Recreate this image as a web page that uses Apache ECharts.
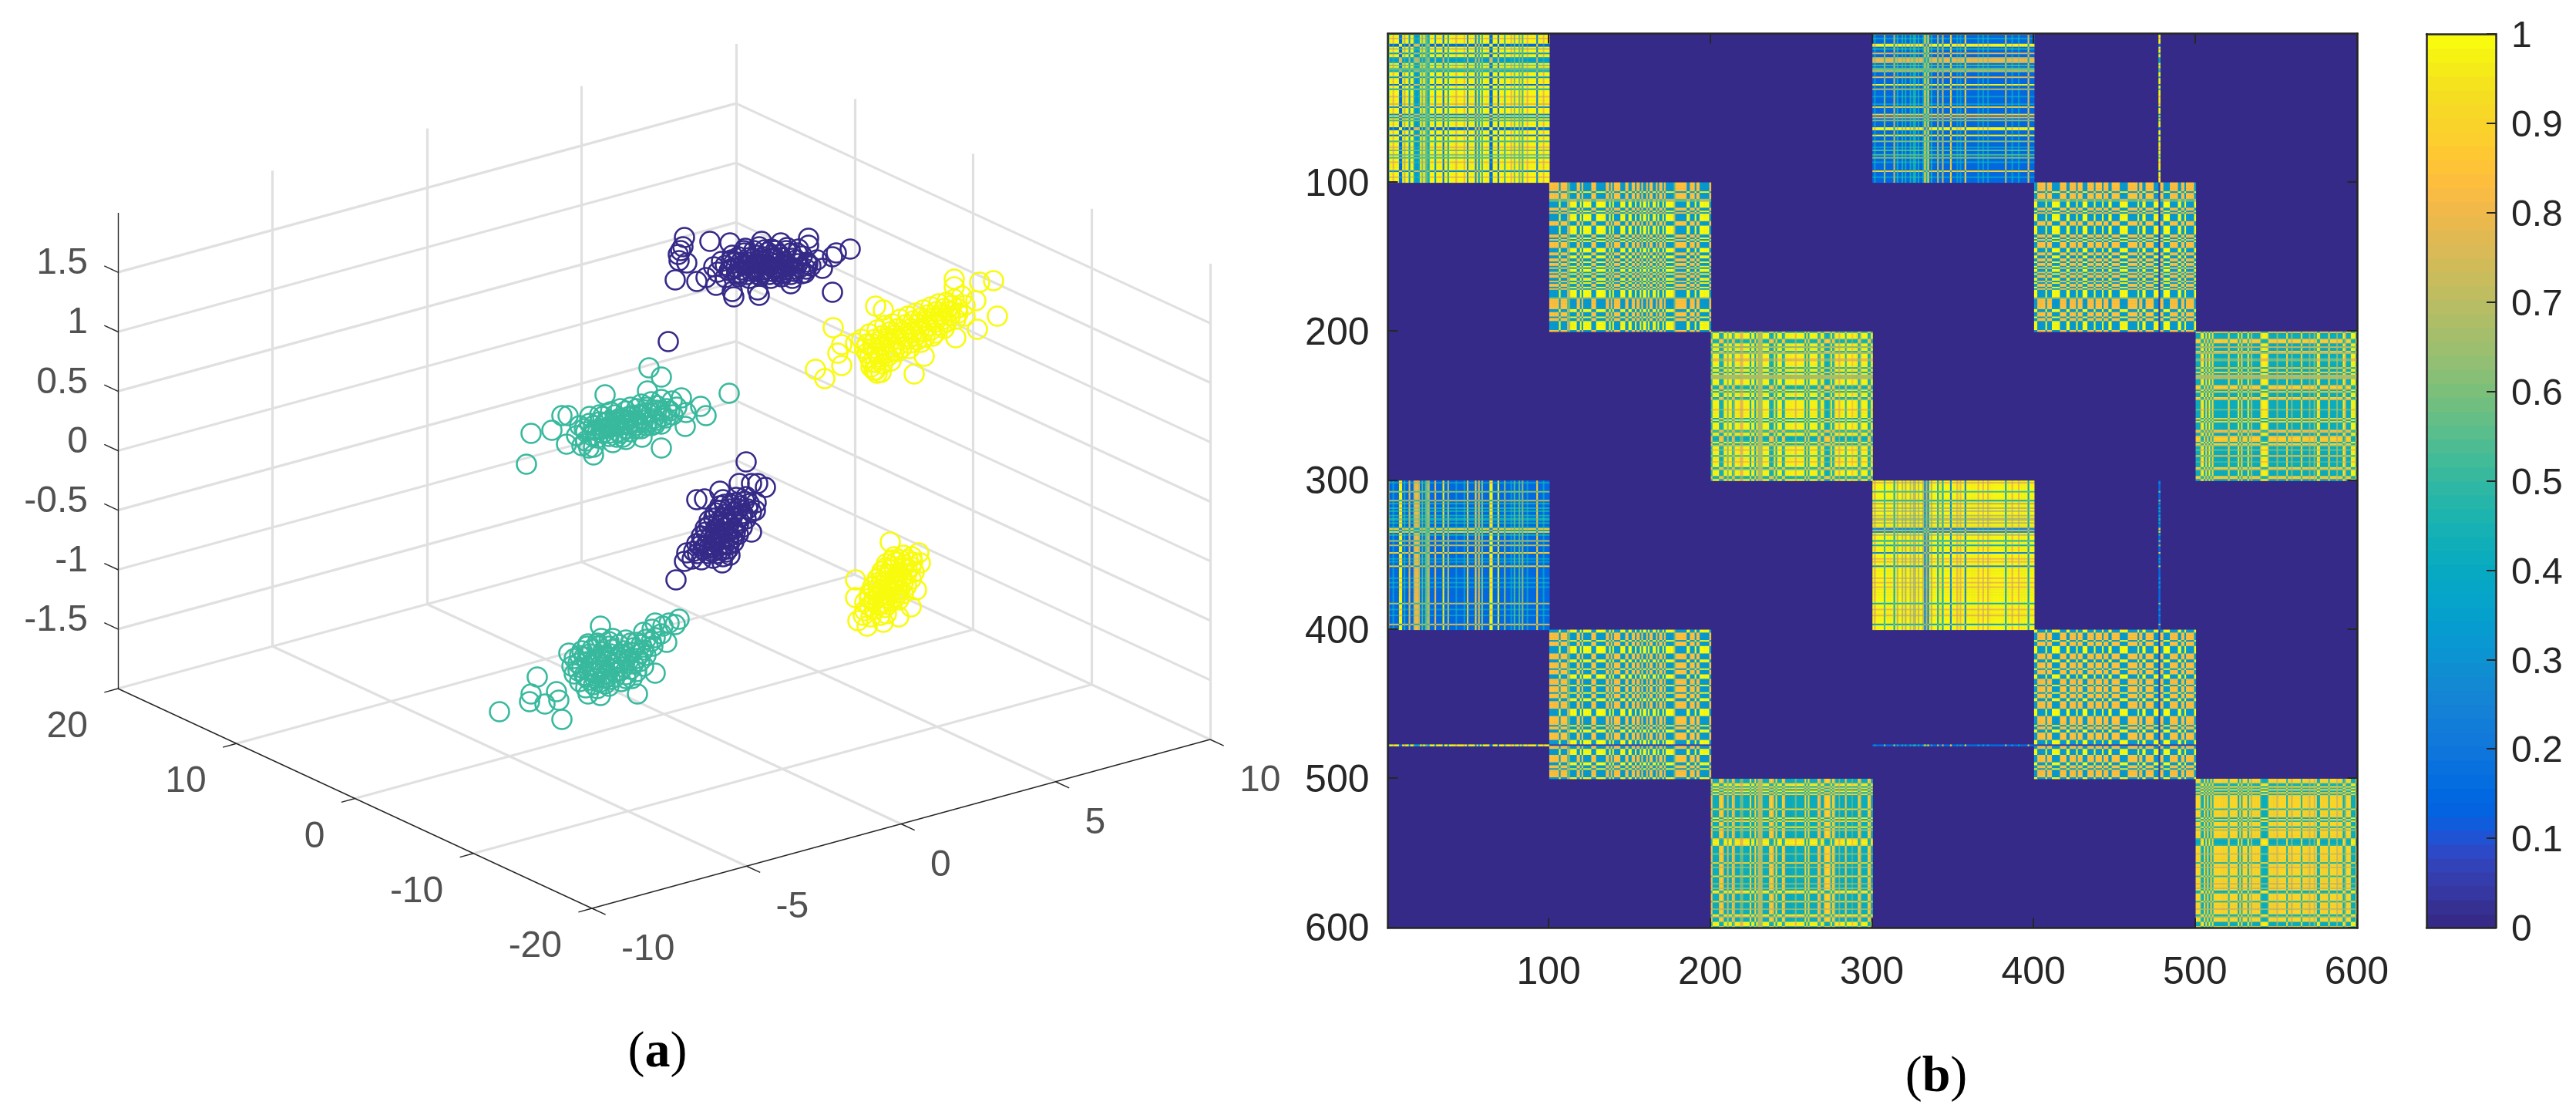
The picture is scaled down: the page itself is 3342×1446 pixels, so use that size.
<!DOCTYPE html>
<html><head><meta charset="utf-8"><style>html,body{margin:0;padding:0;background:#fff}#c{width:3342px;height:1446px}</style>
<script src="https://cdn.jsdelivr.net/npm/echarts@6/dist/echarts.min.js"></script></head>
<body><div id="c"></div><script>
// ---------- panel (a): projected scatter (projection-plane units) ----------
const darkUpper=[[888,308],[886,320],[883,325],[880,330],[881,338],[891,341],[876,363],[904,365],[921,313],[947,315],[988,313],[1013,315],[1049,309],[1049,318],[1103,323],[1085,328],[1080,333],[1067,348],[1080,379],[952,385],[950,378],[985,383],[983,376],[929,370],[916,360],[1026,368],
[950,331],[966,328],[981,331],[996,327],[1011,330],[1026,328],[1041,332],[936,339],[949,337],[961,340],[976,336],[990,339],[1004,336],[1018,339],[1033,337],[1047,340],[1060,337],[926,346],[941,344],[955,347],[968,344],[983,347],[997,344],[1010,347],[1024,345],[1038,347],[1052,345],[931,353],[946,351],[960,354],[975,352],[988,354],[1002,352],[1016,355],[1030,352],[1044,354],[941,360],[958,359],[972,361],[986,358],[1000,361],[1014,359],[1028,361],[967,322],[985,320],[1001,323],[1021,321],[1036,323],[970,340],[985,342],[1000,340],[1015,343],[980,350],[995,349],[1010,352],[990,333],[1005,334],[867,443],
[958,333],[972,334],[986,335],[1000,335],[1014,334],[1028,335],[952,341],[965,343],[979,342],[993,343],[1007,342],[1021,342],[1035,342],[1048,343],[948,349],[962,350],[976,348],[990,350],[1004,349],[1018,350],[1032,349],[1046,349],[956,356],[970,356],[984,356],[998,356],[1012,356],[1026,356],[1040,355],[965,325],[978,325],[992,324],[1006,325],[1020,325],[1034,328]];
const yellowUpper=[[1238,362],[1238,372],[1271,366],[1289,364],[1294,410],[1268,427],[1266,390],[1136,397],[1146,402],[1081,425],[1092,447],[1087,458],[1092,474],[1058,479],[1070,491],[1186,485],[1143,483],[1136,480],[1199,462],[1240,438],[1110,445],
[1118,440],[1128,433],[1138,428],[1148,422],[1158,420],[1168,414],[1178,410],[1188,406],[1198,402],[1208,398],[1218,394],[1228,392],[1238,388],[1248,384],[1122,452],[1132,446],[1142,442],[1152,438],[1162,434],[1172,430],[1182,426],[1192,420],[1202,416],[1212,412],[1222,408],[1232,404],[1242,400],[1252,396],[1128,464],[1138,458],[1148,454],[1158,450],[1168,446],[1178,440],[1188,436],[1198,430],[1208,428],[1218,422],[1228,418],[1240,414],[1252,410],[1130,476],[1136,470],[1142,466],[1152,462],[1165,456],[1180,452],[1195,444],[1210,436],[1138,484],[1134,480],
[1125,458],[1133,452],[1143,449],[1153,445],[1163,440],[1173,437],[1183,432],[1193,427],[1203,423],[1213,418],[1223,414],[1233,410],[1243,406],[1125,446],[1135,440],[1145,435],[1155,430],[1165,426],[1175,421],[1185,416],[1195,412],[1205,408],[1215,404],[1225,400],[1235,396],[1131,470],[1140,463],[1150,458],[1160,455],[1170,451],[1180,445],[1190,441],[1200,437],[1213,432],[1225,426],[1145,472],[1156,468]];
const tealUpper=[[683,602],[689,562],[716,558],[729,539],[737,539],[785,512],[842,477],[858,489],[840,507],[946,510],[916,539],[909,527],[884,516],[858,581],[770,590],[764,581],[735,576],[808,567],[833,567],[889,553],
[765,540],[778,538],[792,534],[805,530],[818,528],[832,524],[845,521],[858,518],[872,520],[752,552],[765,549],[778,547],[790,546],[803,543],[816,540],[828,538],[840,535],[852,532],[865,530],[878,528],[890,535],[748,565],[760,560],[772,558],[785,556],[798,553],[810,550],[822,548],[835,545],[848,543],[860,540],[873,538],[760,572],[775,568],[790,566],[805,562],[818,560],[832,556],[845,552],[858,550],[770,580],[755,578],[795,574],[812,570],[800,548],[815,545],[825,552],[790,555],
[785,548],[797,546],[809,543],[821,540],[833,538],[845,535],[857,533],[869,533],[780,556],[792,554],[804,552],[816,550],[828,548],[840,548],[852,545],[864,542],[790,562],[802,560],[814,556],[826,556],[838,552],[850,550],[770,552],[758,556],[782,540],[798,538],[812,533],[826,530],[840,528],[852,526],[768,565],[782,562],[800,567]];
const darkLower=[[968,599],[959,627],[975,627],[993,632],[983,627],[904,648],[914,647],[934,637],[877,752],[888,728],[937,730],[980,662],[975,690],[947,720],[891,717],
[898,725],[910,726],[925,724],[938,722],[900,715],[912,713],[924,716],[936,714],[945,712],[904,705],[916,707],[928,704],[940,706],[952,703],[910,695],[922,697],[934,694],[946,696],[958,693],[915,685],[928,687],[940,684],[952,686],[963,684],[920,675],[932,677],[944,674],[956,676],[968,673],[928,665],[940,667],[952,664],[964,666],[975,664],[934,656],[948,654],[960,656],[972,653],[981,652],[938,648],[955,645],[968,644],[930,700],[945,690],[935,680],[950,670],[925,710],
[905,718],[918,718],[930,718],[942,716],[908,708],[920,710],[934,708],[946,706],[912,700],[926,700],[938,699],[950,698],[916,690],[928,692],[942,690],[954,690],[920,682],[934,682],[946,680],[958,680],[926,672],[938,672],[950,671],[962,670],[932,662],[946,660],[958,660],[970,660],[940,654],[954,652],[966,650]];
const yellowLower=[[1155,703],[1192,717],[1194,730],[1110,752],[1110,775],[1113,805],[1125,812],[1146,807],[1166,800],[1182,787],[1189,765],
[1122,792],[1135,790],[1148,788],[1122,781],[1133,780],[1145,782],[1156,779],[1166,778],[1128,771],[1139,769],[1150,772],[1161,769],[1172,770],[1132,761],[1142,759],[1153,762],[1164,759],[1176,760],[1138,751],[1148,749],[1159,752],[1170,749],[1182,751],[1144,741],[1155,739],[1166,742],[1177,739],[1186,742],[1150,731],[1162,729],[1173,732],[1184,729],[1160,722],[1172,720],[1183,722],[1130,800],[1142,798],[1150,796],[1120,798],[1150,760],[1160,750],[1145,770],[1165,765],[1140,785],
[1128,786],[1140,784],[1152,784],[1128,776],[1139,775],[1150,776],[1162,774],[1133,766],[1145,765],[1156,766],[1168,764],[1138,756],[1149,755],[1160,756],[1172,755],[1143,746],[1154,745],[1165,746],[1176,745],[1150,736],[1160,735],[1172,736],[1182,735],[1158,726],[1168,726],[1178,726]];
const tealLower=[[648,923],[729,933],[697,878],[687,910],[689,900],[707,913],[722,897],[725,908],[779,812],[881,803],[876,810],[850,808],[850,873],[827,900],[779,902],[763,900],[738,847],[763,835],[865,833],
[775,893],[790,890],[760,892],[752,884],[765,882],[778,885],[792,881],[806,884],[820,880],[745,874],[758,876],[771,873],[785,875],[798,872],[812,875],[826,871],[742,864],[755,866],[768,862],[782,865],[795,862],[809,865],[822,861],[835,864],[745,854],[758,852],[772,855],[785,852],[799,855],[812,851],[826,854],[838,850],[755,844],[768,842],[782,845],[795,842],[809,844],[822,840],[835,843],[847,838],[775,834],[790,832],[812,830],[826,833],[838,829],[850,827],[858,822],[835,820],[846,816],[860,812],[868,808],
[760,878],[772,880],[785,880],[798,878],[812,880],[750,870],[764,870],[778,870],[792,868],[805,870],[818,868],[750,860],[762,858],[776,860],[790,858],[803,858],[816,856],[830,858],[752,850],[765,848],[779,850],[792,848],[805,848],[819,846],[832,847],[762,838],[776,838],[790,838],[803,836],[818,834],[832,836],[845,832],[795,828],[780,828],[770,888],[785,887]];
const xTicks3d=[-10,-5,0,5,10];
const yTicks3d=[-20,-10,0,10,20];
const zTicks3d=[-1.5,-1,-0.5,0,0.5,1,1.5];
const zTickLabels=['-1.5','-1','-0.5','0','0.5','1','1.5'];
const scatterColors=['#352a87','#38b99e','#f9fb0e'];

// ---------- panel (b): stripe strength of each point per group (0..9) ----------
const stripesG1='7002000990'+'3007006776'+'0404560007'+'0000900600'+'0020000208'+'0000807050'+'0009900090'+'0050002040'+'0405002000'+'0080002000';
const stripesG2='9999990999'+'9440000990'+'9000009990'+'0000099090'+'9999000990'+'0990990900'+'9099009099'+'0900000499'+'9999900999'+'0990000009';
const stripesG3='8000089800'+'6008500033'+'0000900905'+'5500008980'+'9000970000'+'0030000090'+'9000008700'+'8998095003'+'0008000200'+'0960000980';
const stripesG4='0200000500'+'0006030030'+'3003033030'+'0383803000'+'6006000080'+'0020200800'+'0000020020'+'0200000000'+'0060002000'+'2000007000';
const stripesG5='0099999099'+'9000009999'+'0099990999'+'0009999099'+'9909990099'+'9990000099'+'9999099009'+'9999000099'+'0000999990'+'0990999990';
const stripesG6='0008908090'+'8000000000'+'8000009080'+'0090400000'+'8999800000'+'3000008003'+'0000080000'+'3003098000'+'0080000300'+'0960009990';
const stripeGroups=[stripesG1,stripesG2,stripesG3,stripesG4,stripesG5,stripesG6];
const invertedGroup=[false,false,false,true,false,true];
// levels for [both low, mixed, both high] in each linked pair of groups
const pairLevels=[[0.99,0.15,0.99],[1.0,0.33,0.85],[0.98,0.42,0.91]];
const outlierIndex=477, outlierDark=0.05;
const heatTicks=[100,200,300,400,500,600];
const colorbarTicks=[0,0.1,0.2,0.3,0.4,0.5,0.6,0.7,0.8,0.9,1];
const parula=[[.2081,.1663,.5292],[.2116,.1898,.5777],[.2123,.2138,.627],[.2081,.2386,.6771],[.1959,.2645,.7279],[.1707,.2919,.7792],[.1253,.3242,.8303],[.0591,.3598,.8683],[.0117,.3875,.882],[.006,.4086,.8828],[.0165,.4266,.8786],[.0329,.443,.872],[.0498,.4586,.8641],[.0629,.4737,.8554],[.0723,.4887,.8467],[.0779,.504,.8384],[.0793,.52,.8312],[.0749,.5375,.8263],[.0641,.557,.824],[.0488,.5772,.8228],[.0343,.5966,.8199],[.0265,.6137,.8135],[.0239,.6287,.8038],[.0231,.6418,.7913],[.0228,.6535,.7768],[.0267,.6642,.7607],[.0384,.6743,.7436],[.059,.6838,.7254],[.0843,.6928,.7062],[.1133,.7015,.6859],[.1453,.7098,.6646],[.1801,.7177,.6424],[.2178,.725,.6193],[.2586,.7317,.5954],[.3022,.7376,.5712],[.3482,.7424,.5473],[.3953,.7459,.5244],[.442,.7481,.5033],[.4871,.7491,.484],[.53,.7491,.4661],[.5709,.7485,.4494],[.6099,.7473,.4337],[.6473,.7456,.4188],[.6834,.7435,.4044],[.7184,.7411,.3905],[.7525,.7384,.3768],[.7858,.7356,.3633],[.8185,.7327,.3498],[.8507,.7299,.336],[.8824,.7274,.3217],[.9139,.7258,.3063],[.945,.7261,.2886],[.9739,.7314,.2666],[.9938,.7455,.2403],[.999,.7653,.2164],[.9955,.7861,.1967],[.988,.8066,.1794],[.9789,.8271,.1633],[.9697,.8481,.1475],[.9626,.8705,.1309],[.9589,.8949,.1132],[.9598,.9218,.0948],[.9661,.9514,.0755],[.9763,.9831,.0538]];

// ---------- build ----------
const parulaCss=parula.map(c=>'rgb('+c.map(v=>Math.round(v*255)).join(',')+')');
const ink='#262626', gridGrey='#e0e0e0', font='Liberation Sans';

// 3-D box -> projection plane
function project(x,y,z){return [768+40.1*(x+10)-15.375*(y+20), 1178-10.95*(x+10)-7.125*(y+20)-154.25*(z+2)];}
const greySegs=[], inkSegs=[];
const seg=(list,a,b)=>list.push({coords:[project(...a),project(...b)]});
xTicks3d.forEach(x=>{ if(x>-10) seg(greySegs,[x,-20,-2],[x,20,-2]); if(x>-10) seg(greySegs,[x,20,-2],[x,20,2]); });
yTicks3d.forEach(y=>{ if(y>-20) seg(greySegs,[-10,y,-2],[10,y,-2]); if(y<20) seg(greySegs,[10,y,-2],[10,y,2]); });
zTicks3d.forEach(z=>{ seg(greySegs,[-10,20,z],[10,20,z]); seg(greySegs,[10,20,z],[10,-20,z]); });
seg(inkSegs,[-10,20,-2],[-10,20,2]); seg(inkSegs,[-10,20,-2],[-10,-20,-2]); seg(inkSegs,[-10,-20,-2],[10,-20,-2]);
zTicks3d.forEach(z=>seg(inkSegs,[-10,20,z],[-10,21.15,z]));
yTicks3d.forEach(y=>seg(inkSegs,[-10,y,-2],[-10.44,y,-2]));
xTicks3d.forEach(x=>seg(inkSegs,[x,-20,-2],[x,-21.15,-2]));

const tickLabelSeries=(data,align)=>({type:'scatter',xAxisIndex:0,yAxisIndex:0,symbolSize:0,silent:true,data,z:6,
  label:{show:true,position:'inside',align,verticalAlign:'middle',fontFamily:font,fontSize:48,color:ink,formatter:p=>p.data[2]}});
const rightLabels=[], leftLabels=[];
zTicks3d.forEach((z,i)=>{const p=project(-10,20,z);rightLabels.push([p[0]-39,p[1]-11,zTickLabels[i]]);});
yTicks3d.forEach(y=>{const p=project(-10,y,-2);rightLabels.push([p[0]-39,p[1]+50,String(y)]);});
xTicks3d.forEach(x=>{const p=project(x,-20,-2);leftLabels.push([p[0]+38,p[1]+54,String(x)]);});

const ringSeries=(data,color)=>({type:'scatter',xAxisIndex:0,yAxisIndex:0,data,symbol:'circle',symbolSize:25,silent:true,z:4,large:false,
  itemStyle:{color:'rgba(0,0,0,0)',borderColor:color,borderWidth:2.6,opacity:1}});

// similarity matrix: only non-zero cells are drawn, the grid background is the zero colour
const stripe=i=>{const g=Math.floor(i/100),s=+stripeGroups[g][i%100]/9;return invertedGroup[g]?1-s:s;};
const mix=(p,a,b)=>{const L=pairLevels[p];return (1-a)*(1-b)*L[0]+(a*(1-b)+b*(1-a))*L[1]+a*b*L[2];};
const cell=(i,j)=>{
  const pi=Math.floor(i/100)%3,pj=Math.floor(j/100)%3;
  if(i===outlierIndex&&j===outlierIndex) return 1;
  if(i===outlierIndex||j===outlierIndex){
    const o=i===outlierIndex?j:i,po=Math.floor(o/100)%3;
    if(po===1) return outlierDark;
    if(po===0) return mix(0,stripe(o),0);
    return 0;
  }
  return pi===pj?mix(pi,stripe(i),stripe(j)):0;
};
const heat=[];
for(let i=0;i<600;i++)for(let j=0;j<600;j++){const v=cell(i,j);if(v>0)heat.push([j,i,v]);}
const cats=Array.from({length:600},(_,i)=>String(i+1));
const tickIv=i=>heatTicks.includes(i+1);
const heatAxis=(extra)=>Object.assign({type:'category',data:cats,gridIndex:1,z:10,boundaryGap:true,
  axisLine:{show:true,onZero:false,lineStyle:{color:ink,width:2.5}},
  axisTick:{show:true,inside:true,length:13,alignWithLabel:true,interval:tickIv,lineStyle:{color:ink,width:2}},splitLine:{show:false}},extra);
const lab={show:true,interval:tickIv,fontFamily:font,fontSize:50,color:ink};
const shiftedRich=(size)=>({t:{padding:[8,0,0,0],fontFamily:font,fontSize:size,color:ink}});
const barBands=parulaCss.map((c,i)=>[i/64,(i+1)/64,i]);
const capRich={p:{fontFamily:'Liberation Serif',fontWeight:'normal',fontSize:66,color:'#000'},b:{fontFamily:'Liberation Serif',fontWeight:'bold',fontSize:66,color:'#000'}};

const option={animation:false,backgroundColor:'#fff',
 title:[
  {text:'{p|(}{b|a}{p|)}',left:848,top:1328,textAlign:'center',textStyle:{fontWeight:'normal',rich:capRich}},
  {text:'{p|(}{b|b}{p|)}',left:2507,top:1360,textAlign:'center',textStyle:{fontWeight:'normal',rich:capRich}}],
 grid:[
  {left:0,top:0,width:1700,height:1446,show:false},
  {left:1800.5,top:43.5,width:1258,height:1160,show:true,backgroundColor:parulaCss[0],borderWidth:0,z:0},
  {left:3148,top:44,width:90,height:1159,show:false}],
 xAxis:[
  {type:'value',gridIndex:0,min:0,max:1700,show:false},
  heatAxis({position:'bottom',axisLabel:Object.assign({},lab,{margin:34})}),
  heatAxis({position:'top',axisLabel:{show:false}}),
  {type:'value',gridIndex:2,min:0,max:1,position:'bottom',z:10,axisLine:{show:true,onZero:false,lineStyle:{color:ink,width:2.5}},axisTick:{show:false},axisLabel:{show:false},splitLine:{show:false}},
  {type:'value',gridIndex:2,min:0,max:1,position:'top',z:10,axisLine:{show:true,onZero:false,lineStyle:{color:ink,width:2.5}},axisTick:{show:false},axisLabel:{show:false},splitLine:{show:false}}],
 yAxis:[
  {type:'value',gridIndex:0,min:0,max:1446,inverse:true,show:false},
  heatAxis({position:'left',inverse:true,axisLabel:Object.assign({},lab,{margin:24,formatter:'{t|{value}}',rich:shiftedRich(50)})}),
  heatAxis({position:'right',inverse:true,axisLabel:{show:false}}),
  {type:'value',gridIndex:2,min:0,max:1,interval:0.1,position:'right',z:10,axisLine:{show:true,onZero:false,lineStyle:{color:ink,width:2.5}},
   axisTick:{show:true,inside:true,length:12,lineStyle:{color:ink,width:2}},splitLine:{show:false},
   axisLabel:{fontFamily:font,fontSize:48,color:ink,margin:20,rich:shiftedRich(48),formatter:v=>colorbarTicks.includes(+v.toFixed(1))?'{t|'+(+v.toFixed(1))+'}':''}},
  {type:'value',gridIndex:2,min:0,max:1,position:'left',z:10,axisLine:{show:true,onZero:false,lineStyle:{color:ink,width:2.5}},axisTick:{show:false},axisLabel:{show:false},splitLine:{show:false}}],
 visualMap:[{type:'continuous',show:false,min:0,max:1,seriesIndex:2,inRange:{color:parulaCss}}],
 series:[
  {type:'lines',coordinateSystem:'cartesian2d',xAxisIndex:0,yAxisIndex:0,polyline:false,silent:true,z:1,data:greySegs,lineStyle:{color:gridGrey,width:3.2,opacity:1}},
  {type:'lines',coordinateSystem:'cartesian2d',xAxisIndex:0,yAxisIndex:0,polyline:false,silent:true,z:2,data:inkSegs,lineStyle:{color:ink,width:1.4,opacity:1}},
  {type:'heatmap',xAxisIndex:1,yAxisIndex:1,data:heat,silent:true,progressive:0,animation:false,z:2,emphasis:{disabled:true}},
  {type:'custom',xAxisIndex:3,yAxisIndex:3,silent:true,z:2,data:barBands,encode:{x:[],y:[0,1]},
   renderItem:(params,api)=>{
    const a=api.coord([0,api.value(0)]),b=api.coord([1,api.value(1)]);
    return {type:'rect',shape:{x:a[0],y:b[1],width:b[0]-a[0],height:a[1]-b[1]+1},style:{fill:parulaCss[api.value(2)]}};
   }},
  ringSeries(darkUpper,scatterColors[0]),ringSeries(darkLower,scatterColors[0]),
  ringSeries(tealUpper,scatterColors[1]),ringSeries(tealLower,scatterColors[1]),
  ringSeries(yellowUpper,scatterColors[2]),ringSeries(yellowLower,scatterColors[2]),
  tickLabelSeries(rightLabels,'right'),tickLabelSeries(leftLabels,'left')]
};
const chart=echarts.init(document.getElementById('c'),null,{renderer:'canvas',width:3342,height:1446});
chart.setOption(option);
</script></body></html>
